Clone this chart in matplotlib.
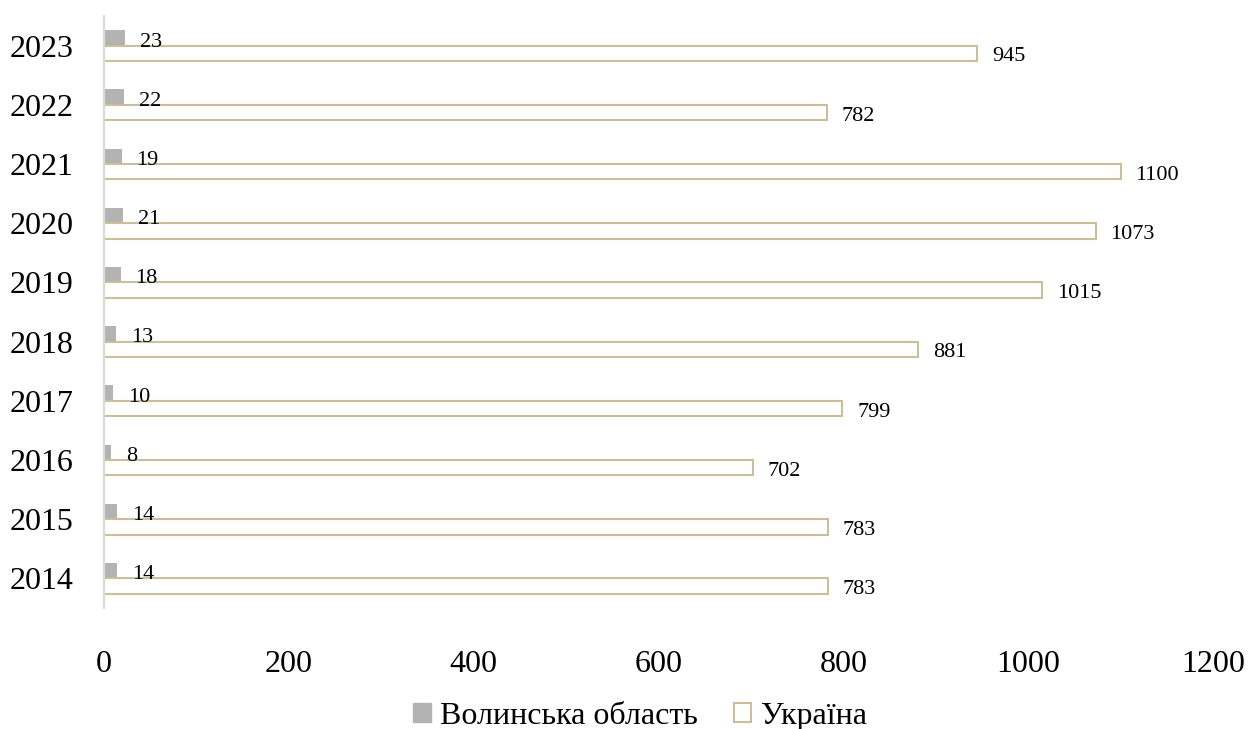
import matplotlib.pyplot as plt
import numpy as np
from matplotlib.patches import Patch

plt.rcParams['font.family'] = ['Liberation Serif', 'DejaVu Serif']

years = ['2014', '2015', '2016', '2017', '2018', '2019', '2020', '2021', '2022', '2023']
volyn = [14, 14, 8, 10, 13, 18, 21, 19, 22, 23]
ukraine = [783, 783, 702, 799, 881, 1015, 1073, 1100, 782, 945]

gray = '#B3B3B3'
tan = '#C9BF9A'

fig = plt.figure(figsize=(12.5, 7.29), dpi=100)
ax = fig.add_axes([0.0832, 0.166, 0.8872, 0.812])

y = np.arange(len(years))
h = 0.26
ax.barh(y + h / 2, volyn, height=h, color=gray, linewidth=0)
ax.barh(y - h / 2, ukraine, height=h, facecolor='white', edgecolor=tan, linewidth=1.5)

for yi, v in zip(y, volyn):
    ax.text(v + 16, yi - 0.015, str(v), va='baseline', ha='left', fontsize=16)
for yi, v in zip(y, ukraine):
    ax.text(v + 16, yi - h / 2 - 0.06, str(v), va='center', ha='left', fontsize=16)

ax.set_xlim(0, 1200)
ax.set_ylim(-0.5, len(years) - 0.5)
ax.set_xticks(range(0, 1201, 200))
ax.set_yticks(y)
ax.set_yticklabels(years)
ax.tick_params(axis='both', length=0, labelsize=23)
ax.tick_params(axis='x', pad=30)
ax.tick_params(axis='y', pad=22)

for s in ['top', 'right', 'bottom']:
    ax.spines[s].set_visible(False)
ax.spines['left'].set_color('#D9D9D9')
ax.spines['left'].set_linewidth(1.5)

handles = [Patch(facecolor=gray, edgecolor=gray, label='Волинська область'),
           Patch(facecolor='white', edgecolor=tan, linewidth=1.5, label='Україна')]
fig.legend(handles=handles, loc='center', bbox_to_anchor=(0.512, 0.017), ncol=2,
           frameon=False, fontsize=23, handlelength=0.55, handleheight=0.55,
           handletextpad=0.3, columnspacing=1.1)

plt.savefig('out.png')
plt.close(fig)
